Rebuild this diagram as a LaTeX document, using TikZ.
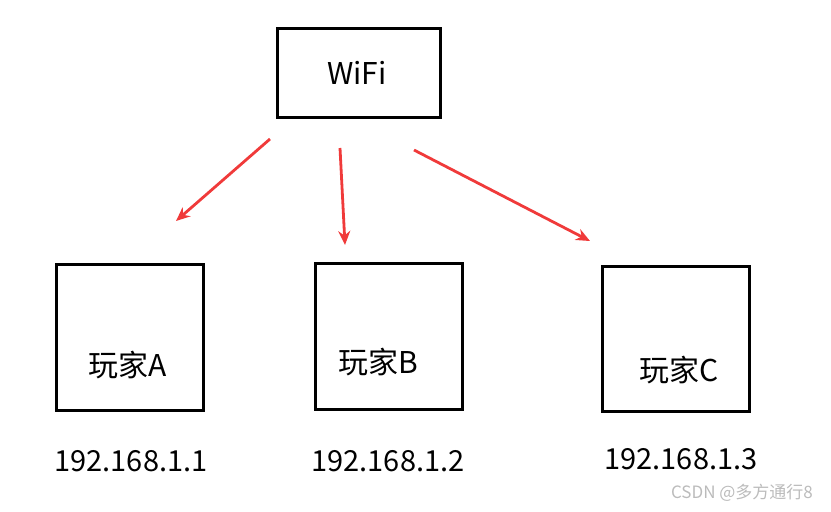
\documentclass[tikz,border=0pt]{standalone}
\usepackage{fontspec}
\setmainfont{Noto Sans CJK SC}
\usetikzlibrary{arrows.meta}
\definecolor{arrowred}{HTML}{F03A3A}
\definecolor{wmgray}{HTML}{BBBBBB}
\tikzset{
  box/.style={draw=black, line width=3pt, inner sep=0pt},
  boxlabel/.style={font=\fontsize{30}{32}\selectfont, inner sep=0pt, anchor=center},
  iplabel/.style={font=\fontsize{29}{31}\selectfont, inner sep=0pt, anchor=center},
  redarrow/.style={draw=arrowred, line width=2.8pt, -{Stealth[length=14pt,width=12pt]}},
}
\begin{document}
\begin{tikzpicture}[x=1pt,y=-1pt]
\useasboundingbox (0,0) rectangle (831,512);
% boxes
\node[box, minimum width=163pt, minimum height=89pt] (wifi) at (358.5,72.5) {};
\node[box, minimum width=147pt, minimum height=146pt] (pa) at (129.5,337) {};
\node[box, minimum width=147pt, minimum height=146pt] (pb) at (388.5,336) {};
\node[box, minimum width=147pt, minimum height=145pt] (pc) at (675.5,338.5) {};
% labels
\node[boxlabel] (twifi) at (357,73) {WiFi};
\node[boxlabel] (ta) at (128,365) {玩家A};
\node[boxlabel] (tb) at (378,362) {玩家B};
\node[boxlabel] (tc) at (679,370) {玩家C};
\node[iplabel] (ipa) at (131,461) {192.168.1.1};
\node[iplabel] (ipb) at (388,461) {192.168.1.2};
\node[iplabel] (ipc) at (681,459) {192.168.1.3};
\node[font=\fontsize{17}{18}\selectfont, text=wmgray, inner sep=0pt] (wm) at (742,493) {CSDN @多方通行8};
% arrows
\coordinate (sa) at (270,139);
\coordinate (ea) at (176,221);
\coordinate (sb) at (340,148);
\coordinate (eb) at (345,245);
\coordinate (sc) at (414,150);
\coordinate (ec) at (590,241);
\draw[redarrow] (sa) -- (ea);
\draw[redarrow] (sb) -- (eb);
\draw[redarrow] (sc) -- (ec);
\end{tikzpicture}
\end{document}
